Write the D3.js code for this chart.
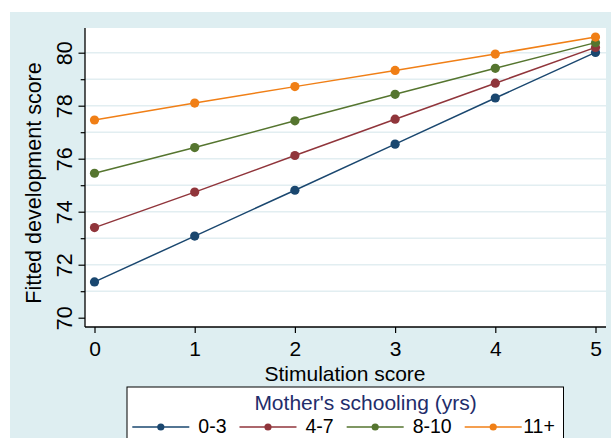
<!DOCTYPE html>
<html>
<head>
<meta charset="utf-8">
<script src="https://cdn.jsdelivr.net/npm/d3@7"></script>
<style>
  body { margin: 0; background: #ffffff; }
  svg { display: block; font-family: "Liberation Sans", Arial, sans-serif; }
</style>
</head>
<body>
<div id="chart"></div>
<script>
// data
const stimulation = [0, 1, 2, 3, 4, 5];
const groups = ['0-3', '4-7', '8-10', '11+'];
const score03 = [71.35, 73.08, 74.81, 76.55, 78.29, 80.01];
const score47 = [73.40, 74.74, 76.12, 77.49, 78.85, 80.20];
const score810 = [75.45, 76.42, 77.43, 78.43, 79.41, 80.38];
const score11 = [77.46, 78.10, 78.72, 79.33, 79.95, 80.59];
const seriesColors = ['#1a476f', '#90353b', '#55752f', '#f07f16'];
const yMajorTicks = [70, 72, 74, 76, 78, 80];
const yMinorTicks = [71, 73, 75, 77, 79];
const yGrid = [71, 72, 73, 74, 75, 76, 77, 78, 79, 80];

const width = 611;
const height = 438;
const plot = { left: 85, top: 28, right: 606, bottom: 327 };

const svg = d3.select('#chart').append('svg').attr('width', width).attr('height', height);

// outer light-blue graph region
svg.append('rect').attr('x', 10).attr('y', 12).attr('width', width - 10).attr('height', height - 12).attr('fill', '#deeef1');

// plot region
svg
  .append('rect')
  .attr('x', plot.left)
  .attr('y', plot.top)
  .attr('width', plot.right - plot.left)
  .attr('height', plot.bottom - plot.top)
  .attr('fill', '#ffffff');

const x = d3.scaleLinear().domain([0, 5]).range([94.5, 595.5]);
const y = d3.scaleLinear().domain([70, 80]).range([317.7, 52.7]);

// grid lines
svg
  .append('g')
  .selectAll('line')
  .data(yGrid)
  .enter()
  .append('line')
  .attr('x1', plot.left)
  .attr('x2', plot.right)
  .attr('y1', (d) => y(d))
  .attr('y2', (d) => y(d))
  .attr('stroke', '#e2eef1')
  .attr('stroke-width', 1.5);

// y axis
const yAxis = svg
  .append('g')
  .attr('transform', `translate(${plot.left},0)`)
  .call(d3.axisLeft(y).tickValues(yMajorTicks).tickSize(6.5).tickSizeOuter(0).tickFormat(d3.format('d')));
yAxis.select('.domain').remove();
yAxis.selectAll('line').attr('stroke', '#000').attr('stroke-width', 1.2);
yAxis
  .selectAll('text')
  .attr('transform', 'rotate(-90)')
  .attr('x', 0)
  .attr('y', -12.7)
  .attr('dy', 0)
  .attr('text-anchor', 'middle')
  .attr('font-size', 21.5)
  .attr('font-family', '"Liberation Sans", Arial, sans-serif')
  .attr('fill', '#000');

const yMinor = svg
  .append('g')
  .attr('transform', `translate(${plot.left},0)`)
  .call(d3.axisLeft(y).tickValues(yMinorTicks).tickSize(4.3).tickSizeOuter(0).tickFormat(''));
yMinor.select('.domain').remove();
yMinor.selectAll('line').attr('stroke', '#000').attr('stroke-width', 1.2);

svg.append('line').attr('x1', plot.left).attr('x2', plot.left).attr('y1', plot.top).attr('y2', plot.bottom).attr('stroke', '#000').attr('stroke-width', 1.3);

// x axis
const xAxis = svg
  .append('g')
  .attr('transform', `translate(0,${plot.bottom})`)
  .call(d3.axisBottom(x).tickValues(stimulation).tickSize(6).tickSizeOuter(0).tickFormat(d3.format('d')));
xAxis.select('.domain').remove();
xAxis.selectAll('line').attr('stroke', '#000').attr('stroke-width', 1.2);
xAxis
  .selectAll('text')
  .attr('y', 28.7)
  .attr('dy', 0)
  .attr('font-size', 21)
  .attr('font-family', '"Liberation Sans", Arial, sans-serif')
  .attr('fill', '#000');

svg.append('line').attr('x1', plot.left).attr('x2', plot.right).attr('y1', plot.bottom).attr('y2', plot.bottom).attr('stroke', '#000').attr('stroke-width', 1.3);

// axis titles
svg.append('text').attr('x', 345).attr('y', 380.5).attr('text-anchor', 'middle').attr('font-size', 21).text('Stimulation score');
svg
  .append('text')
  .attr('transform', 'translate(41,183) rotate(-90)')
  .attr('text-anchor', 'middle')
  .attr('font-size', 21.5)
  .text('Fitted development score');

// series
const series = [score03, score47, score810, score11].map((values, i) => ({
  name: groups[i],
  color: seriesColors[i],
  points: values.map((v, j) => ({ s: stimulation[j], v: v })),
}));

const line = d3
  .line()
  .x((d) => x(d.s))
  .y((d) => y(d.v));

const seriesG = svg.append('g').selectAll('g').data(series).enter().append('g');
seriesG
  .append('path')
  .attr('d', (d) => line(d.points))
  .attr('fill', 'none')
  .attr('stroke', (d) => d.color)
  .attr('stroke-width', 1.5);
seriesG
  .selectAll('circle')
  .data((d) => d.points.map((p) => ({ ...p, color: d.color })))
  .enter()
  .append('circle')
  .attr('cx', (d) => x(d.s))
  .attr('cy', (d) => y(d.v))
  .attr('r', 4.6)
  .attr('fill', (d) => d.color);

// legend
const legend = svg.append('g');
legend.append('rect').attr('x', 127).attr('y', 387).attr('width', 436.5).attr('height', 70).attr('fill', '#ffffff').attr('stroke', '#000').attr('stroke-width', 1);
legend.append('text').attr('x', 365.5).attr('y', 410).attr('text-anchor', 'middle').attr('font-size', 21).attr('fill', '#1f2d6b').text("Mother's schooling (yrs)");

const keyWidth = 57;
let cursor = 132.3;
series.forEach((s, i) => {
  const item = legend.append('g');
  item.append('line').attr('x1', cursor).attr('x2', cursor + keyWidth).attr('y1', 427).attr('y2', 427).attr('stroke', s.color).attr('stroke-width', 1.5);
  item.append('circle').attr('cx', cursor + keyWidth / 2).attr('cy', 427).attr('r', 3.6).attr('fill', s.color);
  const labelX = cursor + keyWidth + (i === series.length - 1 ? 1.5 : 9);
  const label = item.append('text').attr('x', labelX).attr('y', 433.3).attr('font-size', 19.5).attr('fill', '#000').text(s.name);
  cursor = labelX + label.node().getComputedTextLength() + 13;
});
</script>
</body>
</html>
